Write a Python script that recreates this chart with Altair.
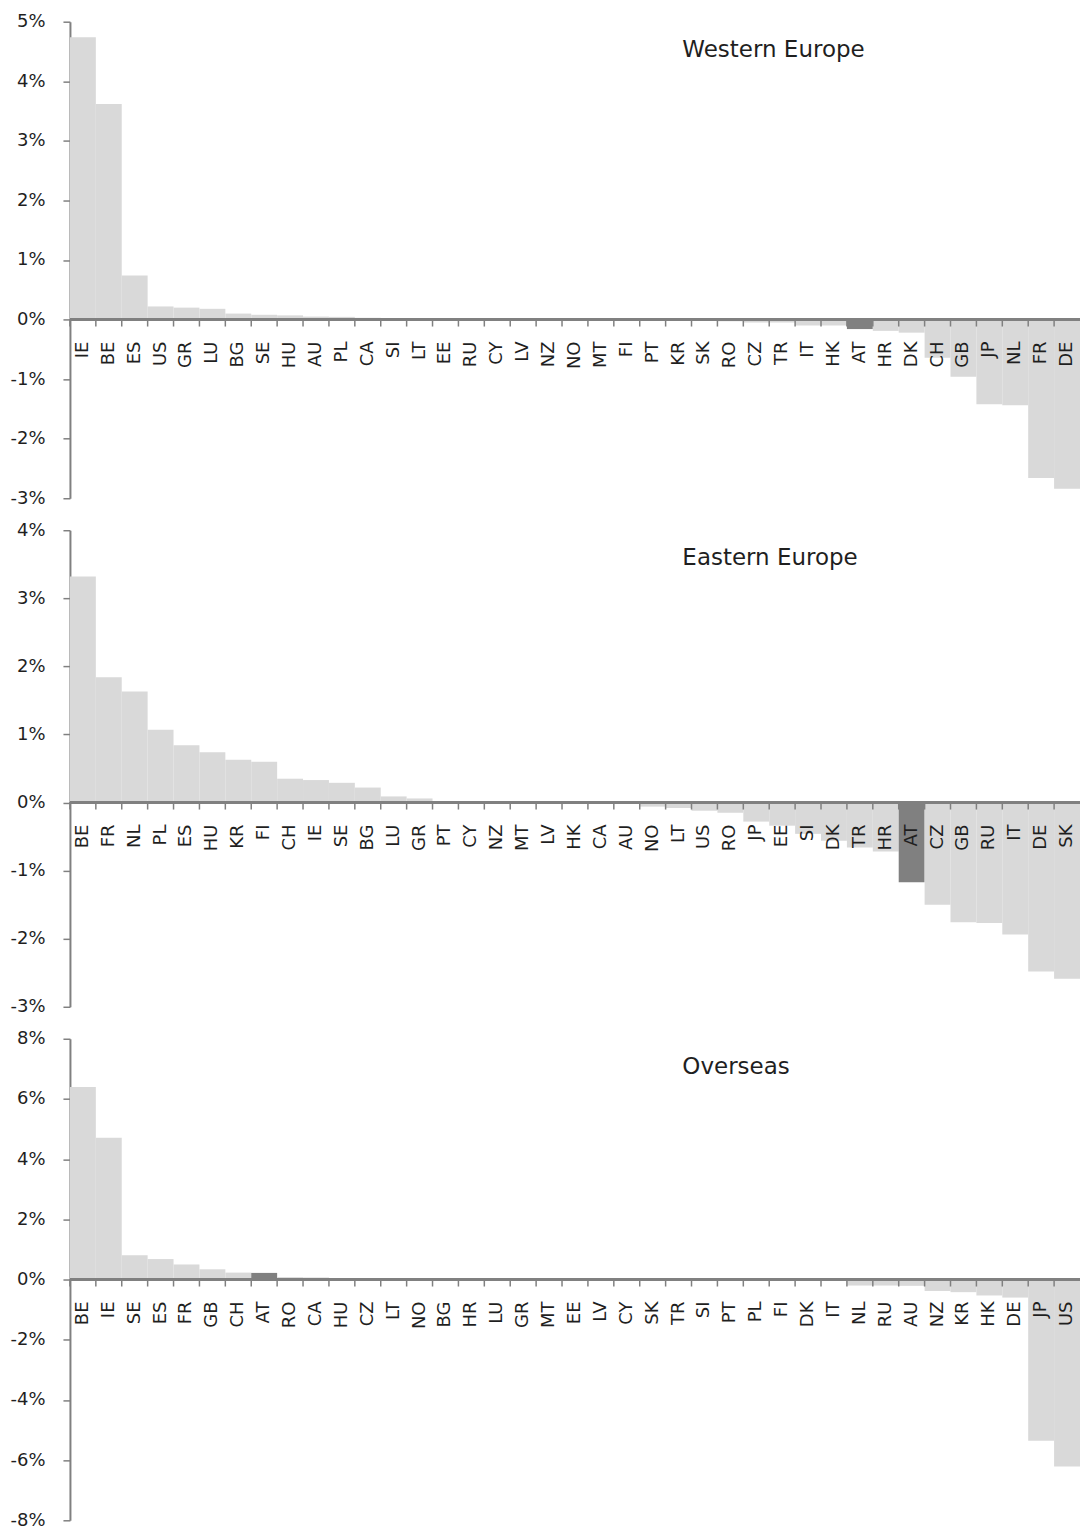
import altair as alt
import pandas as pd

FONT = "DejaVu Sans"
TEXT = "#1f1f1f"
AXIS = "#808080"
LIGHT = "#D9D9D9"
DARK = "#808080"

# ---- data ----
we_cats = ["IE","BE","ES","US","GR","LU","BG","SE","HU","AU","PL","CA","SI","LT","EE","RU","CY","LV","NZ","NO",
           "MT","FI","PT","KR","SK","RO","CZ","TR","IT","HK","AT","HR","DK","CH","GB","JP","NL","FR","DE"]
we_vals = [4.74,3.62,0.74,0.22,0.20,0.18,0.10,0.08,0.07,0.05,0.045,0.03,0.01,0.005,0.003,0.0,0.0,-0.002,-0.003,-0.005,
           -0.005,-0.008,-0.01,-0.015,-0.02,-0.03,-0.05,-0.05,-0.10,-0.10,-0.16,-0.19,-0.22,-0.64,-0.96,-1.42,-1.44,-2.66,-2.84]

ee_cats = ["BE","FR","NL","PL","ES","HU","KR","FI","CH","IE","SE","BG","LU","GR","PT","CY","NZ","MT","LV","HK",
           "CA","AU","NO","LT","US","RO","JP","EE","SI","DK","TR","HR","AT","CZ","GB","RU","IT","DE","SK"]
ee_vals = [3.32,1.84,1.63,1.07,0.84,0.74,0.63,0.60,0.35,0.33,0.29,0.22,0.09,0.06,0.02,0.005,0.0,0.0,0.0,-0.005,
           -0.01,-0.02,-0.06,-0.08,-0.12,-0.15,-0.28,-0.34,-0.46,-0.56,-0.66,-0.72,-1.17,-1.50,-1.76,-1.77,-1.94,-2.48,-2.59]

os_cats = ["BE","IE","SE","ES","FR","GB","CH","AT","RO","CA","HU","CZ","LT","NO","BG","HR","LU","GR","MT","EE",
           "LV","CY","SK","TR","SI","PT","PL","FI","DK","IT","NL","RU","AU","NZ","KR","HK","DE","JP","US"]
os_vals = [6.40,4.71,0.81,0.68,0.50,0.34,0.23,0.22,0.08,0.07,0.04,0.03,0.02,0.02,0.01,0.005,0.0,0.0,0.0,0.0,
           0.0,0.0,-0.005,-0.005,-0.01,-0.01,-0.01,-0.015,-0.02,-0.03,-0.20,-0.20,-0.21,-0.38,-0.42,-0.53,-0.60,-5.36,-6.21]

titles = ["Western Europe", "Eastern Europe", "Overseas"]

WIDTH = 1011


def panel(cats, vals, title, ymin, ymax, step, height):
    df = pd.DataFrame({"country": cats, "value": vals})
    xs = alt.Scale(domain=cats, paddingInner=0, paddingOuter=0)
    x = alt.X("country:N", sort=cats, scale=xs, axis=None)
    x_edge = alt.X("country:N", sort=cats, scale=xs, axis=None, bandPosition=0)
    y = alt.Y(
        "value:Q",
        scale=alt.Scale(domain=[ymin, ymax], nice=False),
        axis=alt.Axis(
            values=list(range(ymin, ymax + 1, step)), labelExpr="datum.value + '%'",
            title=None, grid=False, tickSize=7, labelPadding=18,
            domainColor=AXIS, domainWidth=2, tickColor=AXIS, tickWidth=1.5,
            labelFont=FONT, labelFontSize=18, labelColor=TEXT,
        ),
    )
    base = alt.Chart(df)
    bars = base.mark_bar().encode(
        x=x, y=y,
        color=alt.condition(alt.datum.country == "AT", alt.value(DARK), alt.value(LIGHT)),
    )
    zero = base.mark_rule(color=AXIS, strokeWidth=2).encode(y=alt.datum(0))
    ticks = base.mark_point(
        shape="M0,0L0,1", size=196, filled=False, strokeWidth=1.5,
        color=AXIS, opacity=1,
    ).encode(x=x_edge, y=alt.datum(0))
    labels = base.mark_text(
        angle=270, align="right", baseline="middle", dx=-22,
        font=FONT, fontSize=18, color=TEXT,
    ).encode(x=x, y=alt.datum(0), text="country:N")
    ttl = alt.Chart(pd.DataFrame({"t": [title]})).mark_text(
        align="left", baseline="middle", font=FONT, fontSize=23, color=TEXT
    ).encode(text="t:N", x=alt.value(613), y=alt.value(28))
    return alt.layer(bars, zero, ticks, labels, ttl).properties(width=WIDTH, height=height)


p1 = panel(we_cats, we_vals, titles[0], -3, 5, 1, 477)
p2 = panel(ee_cats, ee_vals, titles[1], -3, 4, 1, 477)
p3 = panel(os_cats, os_vals, titles[2], -8, 8, 2, 482)

chart = alt.vconcat(p1, p2, p3, spacing=14).properties(
    padding={"left": 1, "top": 4, "right": 0, "bottom": 0}
).configure_view(stroke=None)

chart.save("out.html", embed_options={"renderer": "svg", "actions": False})
